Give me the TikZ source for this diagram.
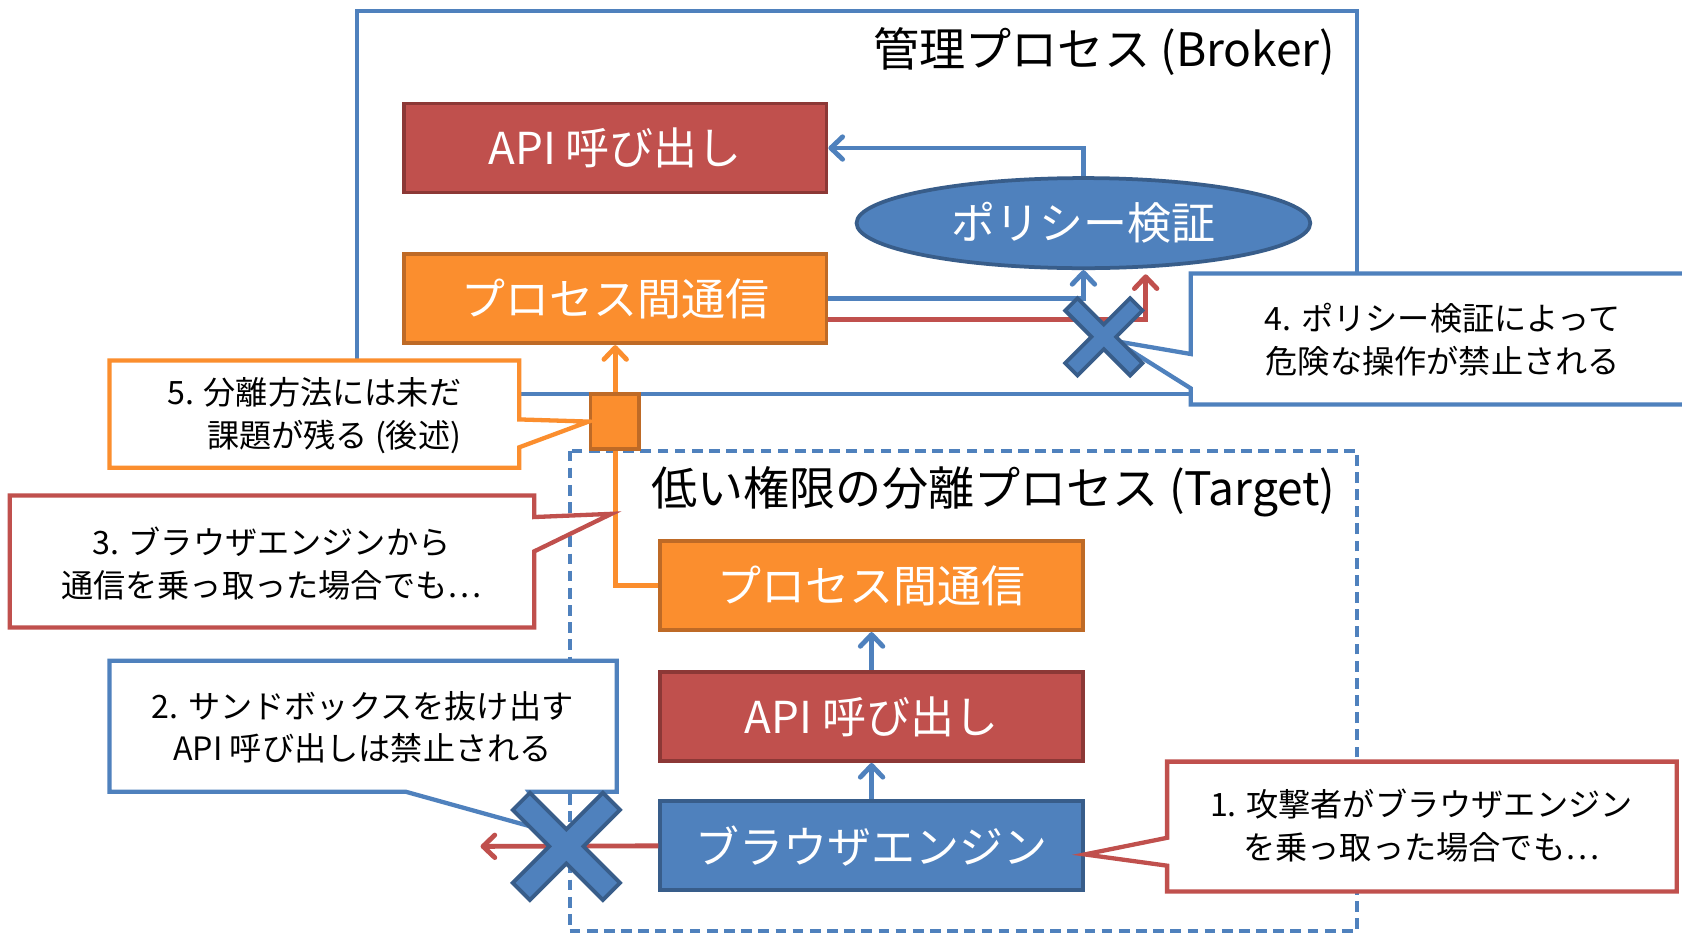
\documentclass[tikz,border=0pt]{standalone}
\usepackage{fontspec}
\setmainfont{Noto Sans CJK JP}
\usetikzlibrary{arrows.meta,shapes.geometric,calc}

\definecolor{bluefill}{HTML}{4F81BD}
\definecolor{blueedge}{HTML}{385D8A}
\definecolor{redfill}{HTML}{C0504D}
\definecolor{rededge}{HTML}{8C3836}
\definecolor{orangefill}{HTML}{FB8E2E}
\definecolor{orangeedge}{HTML}{BE6A26}

\tikzset{
  procbox/.style={draw, line width=3.5pt, minimum width=394pt, minimum height=83pt,
    inner sep=0pt, text=white, font=\fontsize{41}{41}\selectfont},
  redbox/.style={procbox, fill=redfill, draw=rededge},
  orangebox/.style={procbox, fill=orangefill, draw=orangeedge},
  bluebox/.style={procbox, fill=bluefill, draw=blueedge},
  policy/.style={ellipse, draw=blueedge, fill=bluefill, line width=3.5pt,
    minimum width=423pt, minimum height=84pt, inner sep=0pt, text=white,
    font=\fontsize{41}{41}\selectfont},
  gate/.style={draw=orangeedge, fill=orangefill, line width=3.5pt,
    minimum width=45pt, minimum height=51pt, inner sep=0pt},
  frame/.style={draw=bluefill, line width=3.8pt},
  heading/.style={inner sep=0pt, anchor=east, font=\fontsize{43}{43}\selectfont},
  note/.style={inner sep=0pt, align=center, font=\fontsize{30}{40}\selectfont},
  flowtip/.style={-{Straight Barb[length=11pt,width=21pt,round]}},
  bflow/.style={flowtip, draw=bluefill, line width=4.5pt},
  rflow/.style={flowtip, draw=redfill, line width=4.5pt},
  oflow/.style={flowtip, draw=orangefill, line width=4.5pt},
  bubble/.style={fill=white, line width=4pt, line join=miter},
  xmark/.style={fill=bluefill, draw=blueedge, line width=3.5pt, line join=miter},
  crossmark/.pic={
    \path[xmark] (0.8415,0.5727) -- (0.5727,0.8415) -- (0,0.2687)
      -- (-0.5727,0.8415) -- (-0.8415,0.5727) -- (-0.2687,0)
      -- (-0.8415,-0.5727) -- (-0.5727,-0.8415) -- (0,-0.2687)
      -- (0.5727,-0.8415) -- (0.8415,-0.5727) -- (0.2687,0) -- cycle;
  },
}

\begin{document}
\begin{tikzpicture}[x=1pt, y=-1pt]
\useasboundingbox (0,0) rectangle (1568,871);
\fill[white] (0,0) rectangle (1568,871);

% process frames
\draw[frame] (333,10) rectangle (1265,367);
\draw[frame, dash pattern=on 10pt off 6pt] (531,420) rectangle (1265,868);
\node[heading] (brokertitle) at (1245,48) {管理プロセス (Broker)};
\node[heading] (targettitle) at (1245,458) {低い権限の分離プロセス (Target)};

% broker side
\node[redbox] (api1) at (573.5,138) {API 呼び出し};
\node[orangebox] (ipc1) at (573.5,278.5) {プロセス間通信};
\node[policy] (pol) at (1010,208) {ポリシー検証};

% target side
\node[orangebox] (ipc2) at (812.5,546) {プロセス間通信};
\node[redbox] (api2) at (812.5,668) {API 呼び出し};
\node[bluebox] (eng) at (812.5,788.5) {ブラウザエンジン};

% connectors
\draw[bflow] (pol.north) |- (api1.east);
\draw[bflow] (ipc1.east) -| (pol.south);
\draw[rflow] ([yshift=-19pt]ipc1.east) -| ([xshift=58pt,yshift=-4pt]pol.south);
\draw[bflow] (eng.north) -- (api2.south);
\draw[bflow] (api2.north) -- (ipc2.south);
\draw[oflow] (ipc2.west) -| (ipc1.south);
\coordinate (lost) at (448,789);
\draw[rflow] (eng.west) -- (lost);

% hole in the boundary
\node[gate] (hole) at (573,393) {};

% blocked points
\coordinate (cut1) at (1029,314);
\coordinate (cut2) at (528,789);

% callout 5
\coordinate (tip5) at (hole.west);
\path[bubble, draw=orangefill] (102,336) -- (484,336) -- (484,391) -- (tip5)
  -- (484,417) -- (484,436) -- (102,436) -- cycle;
\node[note, align=right] (n5) at (293,387) {5. 分離方法には未だ\\課題が残る (後述)};

% callout 3
\coordinate (tip3) at (570,479);
\path[bubble, draw=redfill] (9,462) -- (498,462) -- (498,482) -- (tip3)
  -- (498,514) -- (498,585) -- (9,585) -- cycle;
\node[note] (n3) at (253,525) {3. ブラウザエンジンから\\通信を乗っ取った場合でも…};

% callout 2
\coordinate (tip2) at ([xshift=-6pt,yshift=11pt]cut2);
\path[bubble, draw=bluefill] (102,616) -- (575,616) -- (575,738) -- (493,738)
  -- (tip2) -- (378,738) -- (102,738) -- cycle;
\node[note] (n2) at (338,678) {2. サンドボックスを抜け出す\\API 呼び出しは禁止される};

% callout 4
\coordinate (tip4) at ([xshift=11pt,yshift=-4pt]cut1);
\path[bubble, draw=bluefill] (1580,255) -- (1110,255) -- (1110,330) -- (tip4)
  -- (1110,362) -- (1110,377) -- (1580,377);
\node[note] (n4) at (1345,317) {4. ポリシー検証によって\\危険な操作が禁止される};

% callout 1
\coordinate (tip1) at ([yshift=-8pt]eng.east);
\path[bubble, draw=redfill] (1088,710) -- (1563,710) -- (1563,831) -- (1088,831)
  -- (1088,807) -- (tip1) -- (1088,781) -- cycle;
\node[note] (n1) at (1325,770) {1. 攻撃者がブラウザエンジン\\を乗っ取った場合でも…};

% cross marks
\pic[scale=42.8] at (cut1) {crossmark};
\pic[scale=59.4] at (cut2) {crossmark};
\end{tikzpicture}
\end{document}
